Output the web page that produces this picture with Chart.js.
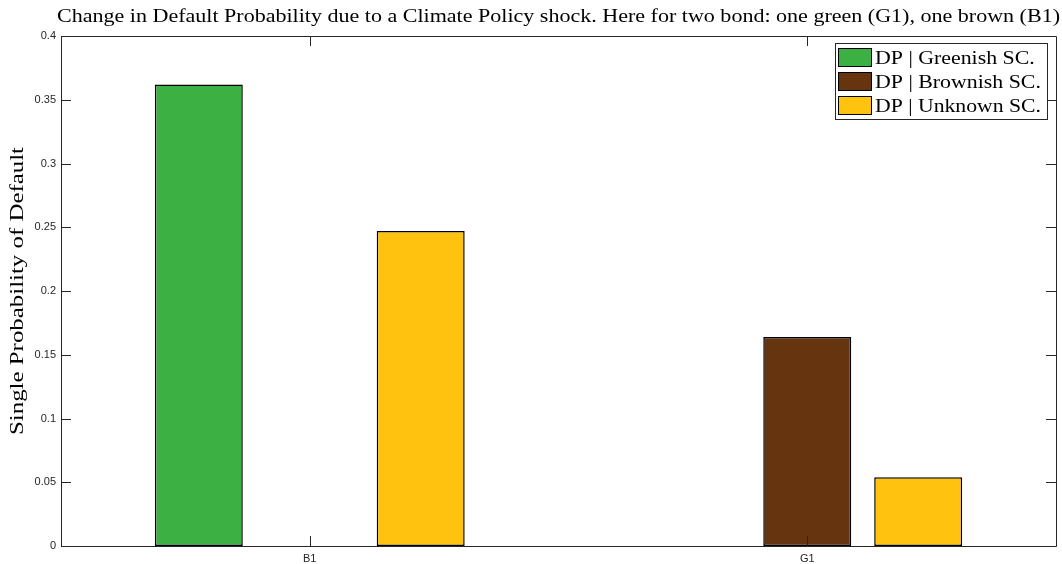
<!DOCTYPE html>
<html><head><meta charset="utf-8">
<script src="https://cdn.jsdelivr.net/npm/chart.js@4/dist/chart.umd.min.js"></script>
<style>html,body{margin:0;padding:0;background:#fff}#wrap{width:1062px;height:564px;position:relative}</style>
</head><body><div id="wrap"><canvas id="c" width="1062" height="564"></canvas></div>
<script>
const categories = ['B1', 'G1'];
const greenish = [0.362, 0];
const brownish = [0, 0.164];
const unknown = [0.247, 0.054];
const seriesLabels = ['DP | Greenish SC.', 'DP | Brownish SC.', 'DP | Unknown SC.'];
const yTicks = [0, 0.05, 0.1, 0.15, 0.2, 0.25, 0.3, 0.35, 0.4];
const titleText = 'Change in Default Probability due to a Climate Policy shock. Here for two bond: one green (G1), one brown (B1)';
const yLabel = 'Single Probability of Default';
const colors = ['#3CB043', '#663510', '#FFC30F'];

const serif = '"Liberation Serif", "DejaVu Serif", serif';
const sans = '"Liberation Sans", Arial, sans-serif';

const boxPlugin = {
  id: 'box',
  afterDraw(chart) {
    const ctx = chart.ctx, a = chart.chartArea;
    const x = chart.scales.x, y = chart.scales.y;
    ctx.save();
    ctx.strokeStyle = '#262626';
    ctx.lineWidth = 1;
    ctx.beginPath();
    ctx.rect(Math.round(a.left) + 0.5, Math.round(a.top) + 0.5, Math.round(a.right - a.left), Math.round(a.bottom - a.top));
    ctx.stroke();
    const tl = 10;
    ctx.beginPath();
    yTicks.forEach(v => {
      const py = Math.round(y.getPixelForValue(v)) + 0.5;
      ctx.moveTo(a.left, py); ctx.lineTo(a.left + tl, py);
      ctx.moveTo(a.right, py); ctx.lineTo(a.right - tl, py);
    });
    categories.forEach((c, i) => {
      const px = Math.round(x.getPixelForValue(i)) + 0.5;
      ctx.moveTo(px, a.bottom); ctx.lineTo(px, a.bottom - tl);
      ctx.moveTo(px, a.top); ctx.lineTo(px, a.top + tl);
    });
    ctx.stroke();

    // title
    ctx.fillStyle = '#000';
    ctx.font = '19px ' + serif;
    ctx.textBaseline = 'alphabetic';
    const tw = ctx.measureText(titleText).width;
    const target = 1003;
    const sx = target / tw;
    ctx.save();
    ctx.translate((a.left + a.right) / 2 - target / 2, 22);
    ctx.scale(sx, 1);
    ctx.textAlign = 'left';
    ctx.fillText(titleText, 0, 0);
    ctx.restore();

    // y label
    ctx.save();
    ctx.font = '19px ' + serif;
    const lw = ctx.measureText(yLabel).width;
    const lsx = 288 / lw;
    ctx.translate(23, (a.top + a.bottom) / 2);
    ctx.rotate(-Math.PI / 2);
    ctx.scale(lsx, 1);
    ctx.textAlign = 'center';
    ctx.fillText(yLabel, 0, 0);
    ctx.restore();

    // legend
    const lx = 835, ly = 43, lwid = 212, lh = 76;
    ctx.fillStyle = '#fff';
    ctx.fillRect(lx, ly, lwid, lh);
    ctx.strokeStyle = '#262626';
    ctx.strokeRect(lx + 0.5, ly + 0.5, lwid, lh);
    ctx.font = '19px ' + serif;
    chart.data.datasets.forEach((ds, i) => {
      const ry = ly + 5 + i * 24;
      ctx.fillStyle = ds.backgroundColor;
      ctx.fillRect(lx + 3, ry, 34, 19);
      ctx.strokeStyle = '#000';
      ctx.strokeRect(lx + 3.5, ry + 0.5, 33, 18);
      ctx.fillStyle = '#000';
      const t = ds.label;
      const w = ctx.measureText(t).width;
      ctx.save();
      ctx.translate(lx + 40, ry + 16);
      ctx.scale(Math.min(1.15, 166 / w), 1);
      ctx.fillText(t, 0, 0);
      ctx.restore();
    });
    ctx.restore();
  }
};

new Chart(document.getElementById('c'), {
  type: 'bar',
  data: {
    labels: categories,
    datasets: [
      { label: seriesLabels[0], data: greenish, backgroundColor: colors[0] },
      { label: seriesLabels[1], data: brownish, backgroundColor: colors[1] },
      { label: seriesLabels[2], data: unknown, backgroundColor: colors[2] }
    ].map(d => Object.assign(d, { borderColor: '#000', borderWidth: 1.5, borderSkipped: false, categoryPercentage: 0.669, barPercentage: 0.793 }))
  },
  options: {
    responsive: false,
    animation: false,
    devicePixelRatio: 1,
    layout: { padding: { top: 36, right: 6, left: 0, bottom: 0 } },
    plugins: { legend: { display: false }, title: { display: false }, tooltip: { enabled: false } },
    scales: {
      x: {
        offset: true,
        grid: { display: false, drawTicks: false },
        border: { display: false },
        ticks: { color: '#262626', font: { family: sans, size: 11 }, padding: 6 },
        afterFit(s) { s.height = 18; }
      },
      y: {
        min: 0, max: 0.4,
        grid: { display: false, drawTicks: false },
        border: { display: false },
        afterBuildTicks(s) { s.ticks = yTicks.map(v => ({ value: v })); },
        ticks: { color: '#262626', font: { family: sans, size: 11 }, padding: 5, callback: v => String(v) },
        afterFit(s) { s.width = 61; }
      }
    }
  },
  plugins: [boxPlugin]
});
</script></body></html>
